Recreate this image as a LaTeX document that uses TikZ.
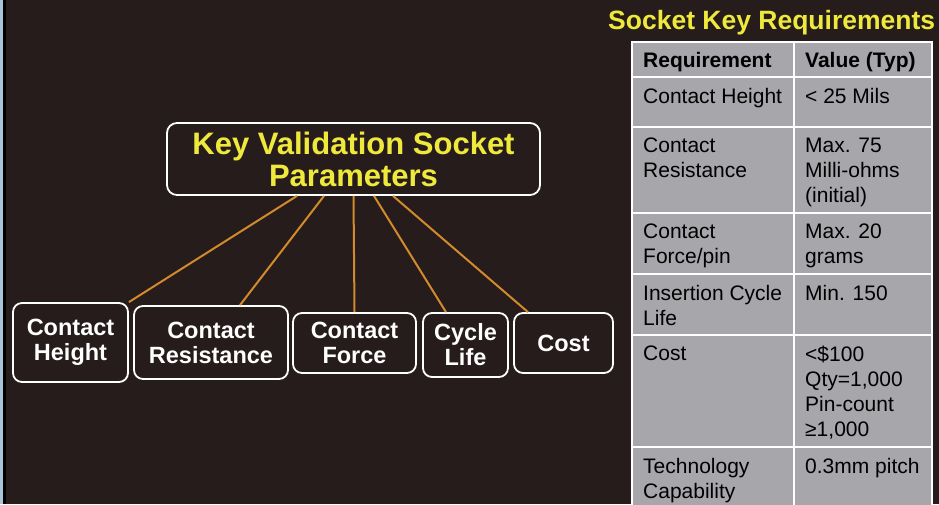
\documentclass[tikz,border=0pt]{standalone}
\usepackage{fontspec}
\setmainfont{Liberation Sans}

\definecolor{bgdark}{HTML}{261C1B}
\definecolor{keyyellow}{HTML}{EFE93C}
\definecolor{linkorange}{HTML}{D38A2C}
\definecolor{tablegray}{HTML}{A7A7AB}
\definecolor{edgeblue}{HTML}{A9C3DA}

\begin{document}
\begin{tikzpicture}[x=1pt,y=-1pt]
\tikzset{ param/.style={draw=white, line width=1.8pt, rounded corners=9pt, text=white, align=center, inner sep=0pt,
            font=\fontsize{23.5}{25}\selectfont\bfseries},
          link/.style={draw=linkorange, line width=2pt},
          cell/.style={anchor=north west, inner sep=0pt, align=left, text=black, font=\fontsize{21}{25}\selectfont},
          gridline/.style={draw=white, line width=1.2pt} }

\useasboundingbox (0,0) rectangle (939,504);

% fondo
\fill[bgdark] (0,0) rectangle (939,504);
\fill[edgeblue] (0,0) rectangle (3,504);
\fill[black] (3,0) rectangle (6,504);

%%% Arbol de parametros

% parametro principal
\node [param, text=keyyellow, minimum width=373pt, minimum height=72pt, rounded corners=10pt,
       font=\fontsize{31}{32}\selectfont\bfseries] (key) at (353.5,159) {Key Validation Socket\\Parameters};

% hojas
\node [param, minimum width=115pt, minimum height=79pt] (hgt) at (70.5,342.5) {Contact\\Height};
\node [param, minimum width=154pt, minimum height=73pt] (res) at (211,342.5)  {Contact\\Resistance};
\node [param, minimum width=123pt, minimum height=60pt] (frc) at (354.5,343)  {Contact\\Force};
\node [param, minimum width=85pt,  minimum height=64pt] (cyc) at (465.5,345)  {Cycle\\Life};
\node [param, minimum width=99pt,  minimum height=60pt] (cst) at (563.5,343)  {Cost};

% enlaces
\draw [link] ([xshift=-56.5pt]key.south) -- (hgt.north east);
\draw [link] ([xshift=-29.5pt]key.south) -- ([xshift=29pt]res.north);
\draw [link] (key.south) -- (frc.north);
\draw [link] ([xshift=20.5pt]key.south) -- ([xshift=-19.5pt]cyc.north);
\draw [link] ([xshift=39.5pt]key.south) -- ([xshift=-35.5pt]cst.north);

%%% Tabla de requisitos

\node [anchor=base west, inner sep=0pt, text=keyyellow, font=\fontsize{26.5}{28}\selectfont\bfseries] (tit) at (608,29) {Socket Key Requirements};

\fill [tablegray] (632,42) rectangle (932,510);
\draw [gridline] (632,42) rectangle (932,510);
\draw [gridline] (794,42) -- (794,510);
\draw [gridline] (632,77) -- (932,77);
\draw [gridline] (632,127) -- (932,127);
\draw [gridline] (632,213) -- (932,213);
\draw [gridline] (632,274) -- (932,274);
\draw [gridline] (632,335) -- (932,335);
\draw [gridline] (632,447) -- (932,447);

% cabecera
\node [cell, font=\fontsize{21}{25}\selectfont\bfseries] (req0) at (643,52) {Requirement};
\node [cell, font=\fontsize{21}{25}\selectfont\bfseries] (val0) at (805,52) {Value (Typ)};

% filas
\node [cell] (req1) at (643,88)  {Contact Height};
\node [cell] (val1) at (805,88)  {< 25 Mils};
\node [cell] (req2) at (643,138) {Contact\\Resistance};
\node [cell] (val2) at (805,138) {Max. 75\\Milli-ohms\\(initial)};
\node [cell] (req3) at (643,224) {Contact\\Force/pin};
\node [cell] (val3) at (805,224) {Max. 20\\grams};
\node [cell] (req4) at (643,285) {Insertion Cycle\\Life};
\node [cell] (val4) at (805,285) {Min. 150};
\node [cell] (req5) at (643,346) {Cost};
\node [cell] (val5) at (805,346) {<\$100\\Qty=1,000\\Pin-count\\≥1,000};
\node [cell] (req6) at (643,458) {Technology\\Capability};
\node [cell] (val6) at (805,458) {0.3mm pitch};

\end{tikzpicture}
\end{document}
